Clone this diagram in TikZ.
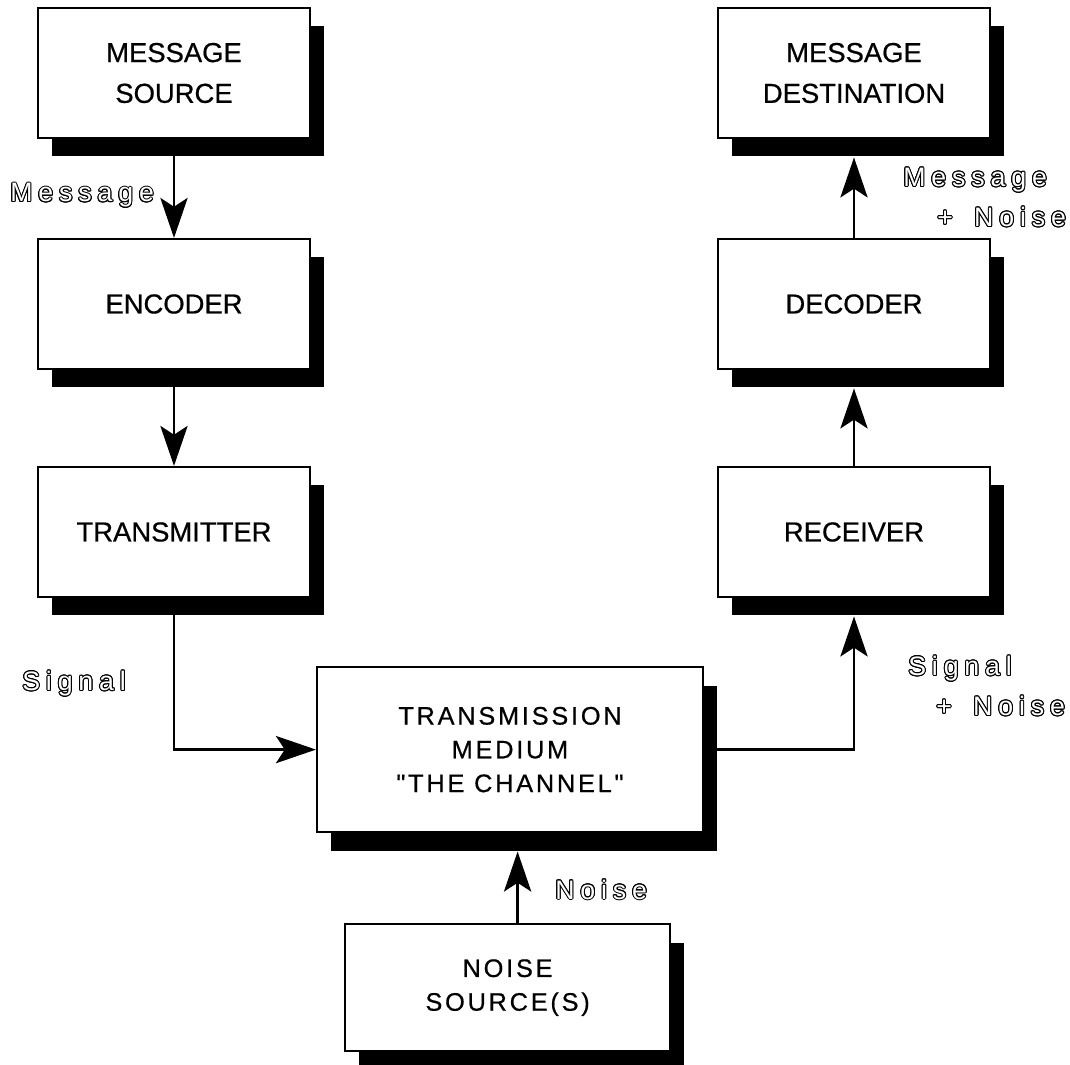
\documentclass[tikz,border=0pt]{standalone}
\usepackage{fontspec}
\setmainfont{Liberation Sans}[FakeBold=0.6]
\newfontfamily\widefont[LetterSpace=11, FakeBold=0.6]{Liberation Sans}
\newfontfamily\hollowfont[LetterSpace=22]{Liberation Sans}
\usepackage{contour}
\contourlength{0.7pt}
\usetikzlibrary{arrows.meta,shadows}

\newcommand{\hollow}[1]{{\color{white}\contour{black}{#1}}}

\tikzset{
    block/.style={draw, line width=1.5pt, fill=white, align=center,
        minimum width=6.8cm, minimum height=3.25cm,
        font=\fontsize{19.5}{29}\selectfont,
        drop shadow={shadow xshift=0.35cm, shadow yshift=-0.46cm, fill=black, opacity=1}},
    wideblock/.style={font=\fontsize{18}{24}\widefont},
    arr/.style={line width=1.8pt, -{Stealth[length=1cm, width=0.68cm, inset=0.22cm]}},
    note/.style={font=\fontsize{19}{28.5}\hollowfont, inner sep=0pt, align=left}
}

\begin{document}
\begin{tikzpicture}
            \useasboundingbox (0,0) rectangle (26.75,-26.625);
            \node[block] (src) at (4.35,-1.825) {MESSAGE\\SOURCE};
            \node[block] (enc) at (4.35,-7.6) {ENCODER};
            \node[block] (tx) at (4.35,-13.3) {TRANSMITTER};
            \node[block] (dst) at (21.35,-1.825) {MESSAGE\\DESTINATION};
            \node[block] (dec) at (21.35,-7.6) {DECODER};
            \node[block] (rx) at (21.35,-13.3) {RECEIVER};
            \node[block, wideblock, minimum width=9.65cm, minimum height=4.125cm]
                (chan) at (12.75,-18.74) {TRANSMISSION\\MEDIUM\\"THE CHANNEL"};
            \node[block, wideblock, minimum width=8.125cm, minimum height=3.175cm]
                (noise) at (12.69,-24.69) {NOISE\\SOURCE(S)};
            \draw[arr] (src) -- (enc);
            \draw[arr] (enc) -- (tx);
            \draw[arr] (tx) |- (chan);
            \draw[arr, shorten >=0.46cm] (chan) -| (rx);
            \draw[arr, shorten >=0.46cm] (rx) -- (dec);
            \draw[arr, shorten >=0.46cm] (dec) -- (dst);
            \draw[arr, shorten >=0.46cm] ([xshift=0.25cm]noise.north)
                -- ([xshift=0.25cm]noise.north |- chan.south);
            \node[note, anchor=west] (msgin) at (0.25,-4.9) {\hollow{Message}};
            \node[note, anchor=west] (msgout) at (22.575,-4.95)
                {\hollow{Message}\\\hspace*{0.85cm}\hollow{+\hspace{0.3em} Noise}};
            \node[note, anchor=west] (sigin) at (0.55,-17.1) {\hollow{Signal}};
            \node[note, anchor=west] (sigout) at (22.7,-17.16)
                {\hollow{Signal}\\\hspace*{0.7cm}\hollow{+\hspace{0.3em} Noise}};
            \node[note, anchor=west] (noiselbl) at (13.875,-22.25) {\hollow{Noise}};
        \end{tikzpicture}
\end{document}
